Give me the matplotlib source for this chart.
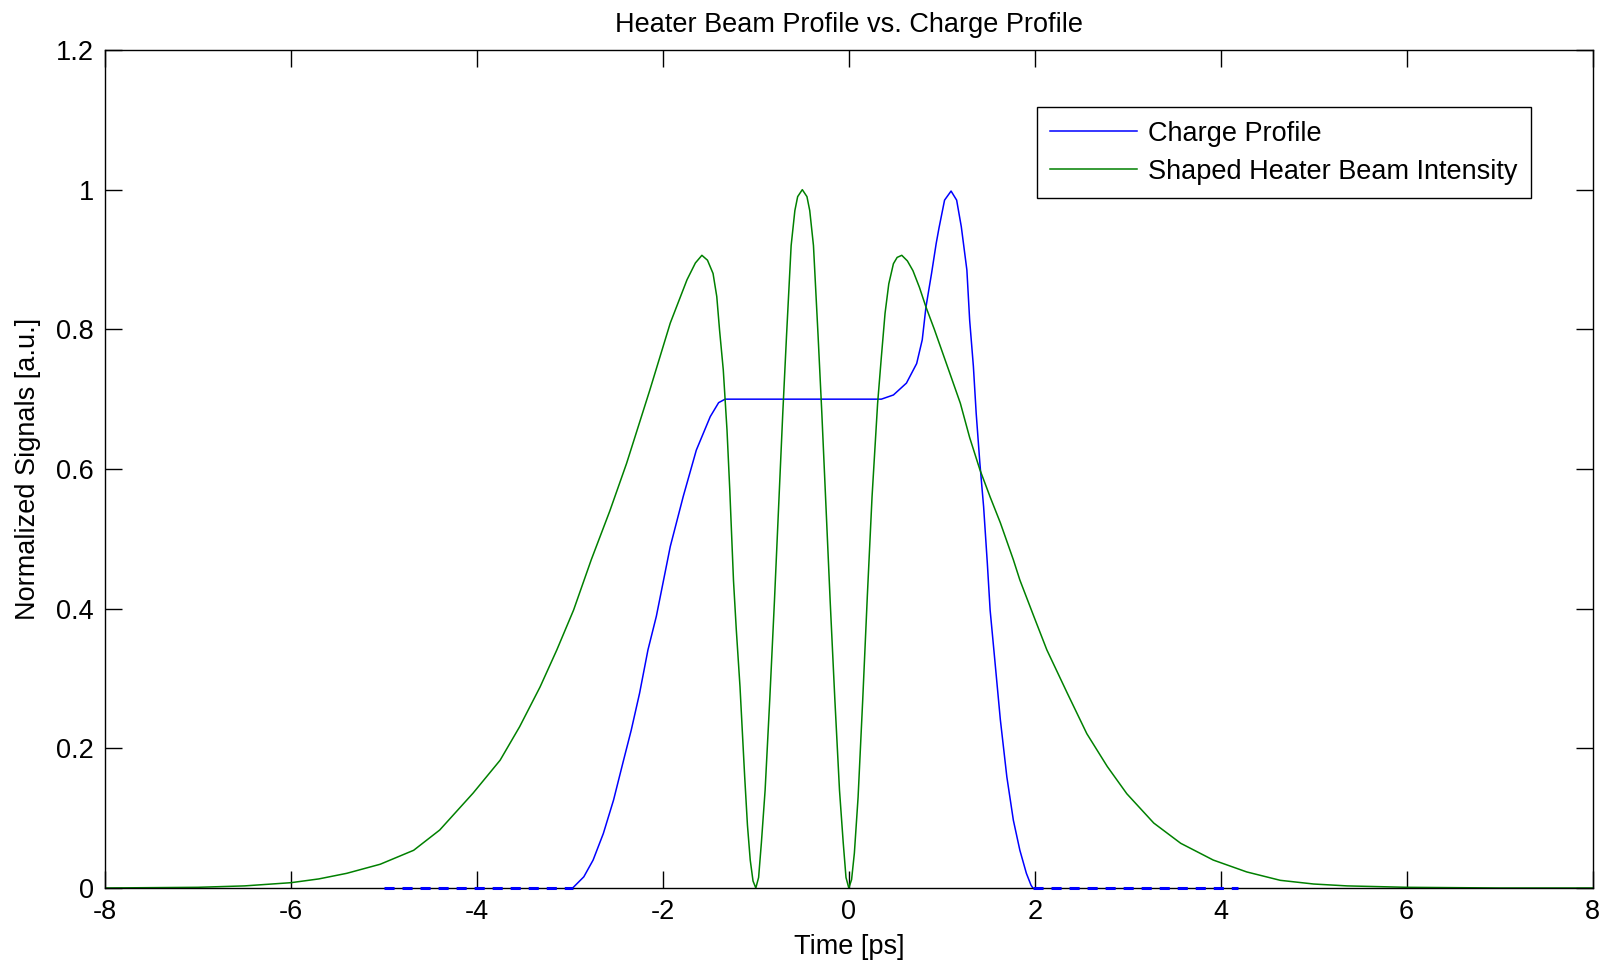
import matplotlib
matplotlib.use("Agg")
import matplotlib.pyplot as plt
from matplotlib import ticker

# data -------------------------------------------------------------------------
# charge profile (blue), ps / normalized
charge_t = [-2.97, -2.85, -2.75, -2.64, -2.53, -2.43, -2.34, -2.25, -2.16, -2.07,
            -1.92, -1.78, -1.64, -1.49, -1.40, -1.33, 0.35, 0.48, 0.62, 0.73,
            0.79, 0.83, 0.89, 0.94, 0.97, 1.03, 1.10, 1.16, 1.21, 1.27,
            1.30, 1.34, 1.37, 1.41, 1.45, 1.49, 1.52, 1.57, 1.63, 1.70,
            1.77, 1.84, 1.91, 1.96, 1.98]
charge_v = [0.0, 0.016, 0.040, 0.078, 0.126, 0.179, 0.226, 0.279, 0.341, 0.389,
            0.489, 0.561, 0.627, 0.675, 0.695, 0.700, 0.700, 0.706, 0.723, 0.751,
            0.785, 0.832, 0.880, 0.923, 0.945, 0.985, 0.998, 0.985, 0.947, 0.885,
            0.813, 0.747, 0.680, 0.608, 0.546, 0.465, 0.398, 0.327, 0.241, 0.159,
            0.097, 0.054, 0.021, 0.004, 0.0]
# zero level segments of the charge profile (dashed)
zero_left_t = [-5.0, -2.97]
zero_right_t = [1.98, 4.19]

# shaped heater beam intensity (green)
heater_t = [-8.0, -7.0, -6.5, -6.0, -5.7, -5.4, -5.04, -4.68, -4.4, -4.04,
            -3.75, -3.54, -3.32, -3.14, -2.96, -2.77, -2.57, -2.39, -2.14, -1.92,
            -1.74, -1.65, -1.58, -1.52, -1.46, -1.42, -1.39, -1.35, -1.31, -1.28,
            -1.24, -1.21, -1.17, -1.12, -1.09, -1.06, -1.03, -1.0,
            -0.97, -0.94, -0.9, -0.85, -0.8, -0.75, -0.71, -0.67, -0.62, -0.58,
            -0.55, -0.5, -0.45, -0.42, -0.38, -0.33, -0.29, -0.25, -0.2, -0.15,
            -0.1, -0.06, -0.03, 0.0,
            0.03, 0.06, 0.1, 0.15, 0.2, 0.25, 0.31, 0.35, 0.39, 0.43,
            0.48, 0.52, 0.57, 0.63, 0.69, 0.76, 0.83, 0.92, 1.01, 1.10,
            1.20, 1.30, 1.41, 1.52, 1.63, 1.77, 1.84, 1.99, 2.13, 2.35,
            2.56, 2.78, 2.99, 3.28, 3.57, 3.92, 4.28, 4.64, 5.0, 5.36,
            6.0, 7.0, 8.0]
heater_v = [0.0, 0.001, 0.003, 0.0076, 0.013, 0.021, 0.034, 0.054, 0.083, 0.136,
            0.183, 0.231, 0.288, 0.341, 0.398, 0.470, 0.540, 0.608, 0.713, 0.809,
            0.871, 0.895, 0.906, 0.899, 0.880, 0.847, 0.799, 0.742, 0.656, 0.570,
            0.440, 0.370, 0.288, 0.160, 0.090, 0.040, 0.010, 0.0,
            0.015, 0.065, 0.140, 0.270, 0.410, 0.560, 0.680, 0.790, 0.920, 0.970,
            0.990, 1.0, 0.990, 0.970, 0.920, 0.790, 0.680, 0.560, 0.410, 0.270,
            0.140, 0.065, 0.015, 0.0,
            0.012, 0.050, 0.130, 0.270, 0.420, 0.560, 0.694, 0.760, 0.823, 0.865,
            0.894, 0.903, 0.906, 0.898, 0.884, 0.860, 0.832, 0.800, 0.766, 0.732,
            0.694, 0.645, 0.599, 0.560, 0.523, 0.470, 0.441, 0.389, 0.341, 0.279,
            0.221, 0.174, 0.135, 0.093, 0.064, 0.040, 0.023, 0.011, 0.0057, 0.003,
            0.001, 0.0, 0.0]

x_ticks = [-8, -6, -4, -2, 0, 2, 4, 6, 8]
y_ticks = [0, 0.2, 0.4, 0.6, 0.8, 1.0, 1.2]

# figure -----------------------------------------------------------------------
plt.rcParams["font.family"] = ["Liberation Sans", "DejaVu Sans"]
plt.rcParams["font.size"] = 19.5
plt.rcParams["axes.unicode_minus"] = False

fig = plt.figure(figsize=(16.1, 9.67), dpi=100)
ax = fig.add_axes([0.0652, 0.0817, 0.924, 0.8666])

ax.plot(charge_t, charge_v, color="#0000ff", lw=1.1, label="Charge Profile")
ax.plot(heater_t, heater_v, color="#008000", lw=1.1, label="Shaped Heater Beam Intensity")
# dashed zero segments sit on the bottom spine
for seg in (zero_left_t, zero_right_t):
  ax.plot(seg, [0, 0], color="#0000ff", lw=2.2, ls=(0, (3.3, 2.6)), clip_on=False, zorder=5)

ax.set_xlim(-8, 8)
ax.set_ylim(0, 1.2)
ax.set_xticks(x_ticks)
ax.set_yticks(y_ticks)
ax.yaxis.set_major_formatter(ticker.FormatStrFormatter("%g"))
ax.tick_params(direction="in", top=True, right=True, length=12, width=1.0, pad=8, labelsize=19.5)
for s in ax.spines.values():
  s.set_linewidth(1.0)

ax.set_title("Heater Beam Profile vs. Charge Profile", fontsize=19.5, pad=13)
ax.set_xlabel("Time [ps]", fontsize=19.5, va="center")
ax.xaxis.set_label_coords(0.5, -0.0704)
ax.set_ylabel("Normalized Signals [a.u.]", fontsize=19.5, va="center")
ax.yaxis.set_label_coords(-0.0518, 0.5)

leg = ax.legend(loc="upper right", bbox_to_anchor=(0.9586, 0.932), borderaxespad=0,
                fancybox=False, framealpha=1, edgecolor="black", fontsize=19.5,
                handlelength=3.2, handletextpad=0.4, borderpad=0.5, labelspacing=0.45)
leg.get_frame().set_linewidth(1.0)

fig.savefig("out.png", dpi=100)
